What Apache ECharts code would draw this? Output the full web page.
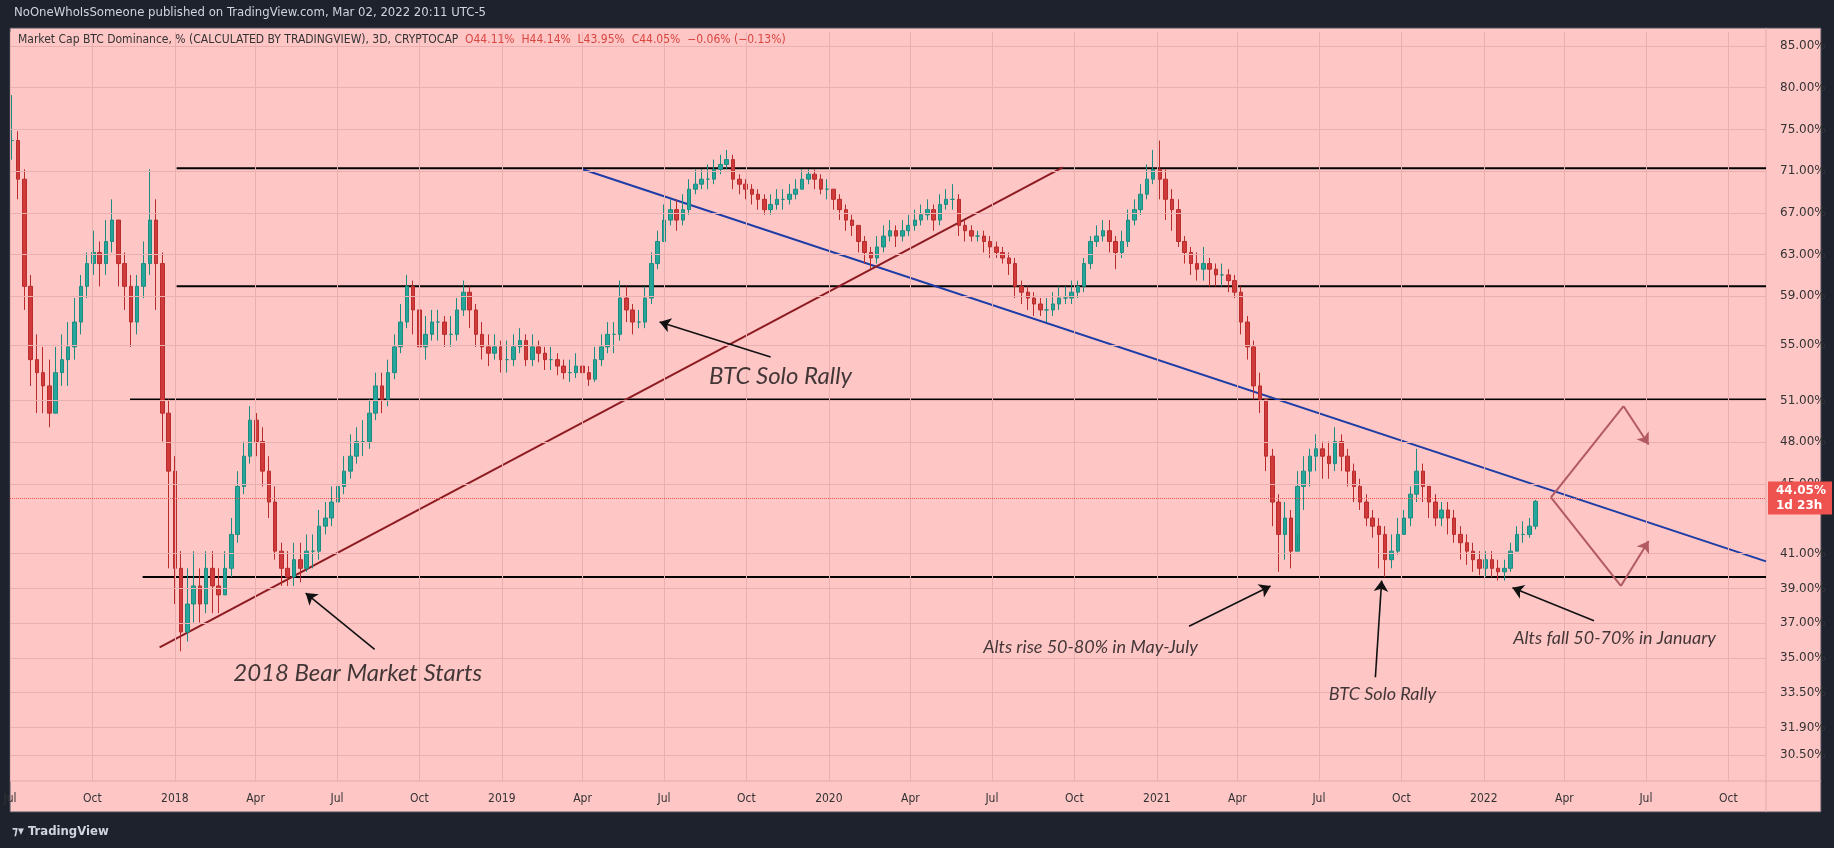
<!DOCTYPE html>
<html><head><meta charset="utf-8">
<script src="https://cdn.jsdelivr.net/npm/echarts@6/dist/echarts.min.js"></script>
<style>html,body{margin:0;padding:0;background:#1e222d}#c{width:1834px;height:848px}</style>
</head><body><div id="c"></div>
<script>
// Weekly candles starting 2017-07-03 (Mondays), closes / highs / lows
const closes = [
74,70,60,54,53, 52,50,53,54, 55,57,60,62, 63,62,64,66,62, 60,57,60,62, 66,62,50,46,
40,36.5,38,39,38, 40,39,38.5,40, 42,45,47,49.5, 48,46,44,41,40, 39.5,40.5,40,41, 41,42.5,43,44, 45,46,47,48,48, 50,52,51,53, 55,57,60,58, 55,56,57,57,56, 56,58,59.5,58, 56,55,54.5,55,54,
54,55,55.5,54, 55,54.5,54,54, 53.5,53,53,53.5, 53,52.5,54,55,56, 56,59,58,57, 57,59,62,64, 66,67,66,67,69, 69.5,70,70,71, 71.5,72,70,69.5,69, 68.5,68,67,67.5, 68,68,68.5,69, 70,70.5,70,69,69,
68,67,66,65.5, 64,63,62.5,63.5, 64.5,65,64.5,65,65.5, 66,66.5,67,66, 67.5,68,68,65.5, 65,64.5,64.5,64,63.5, 63,62.5,62,60, 59.5,59,58.5,58,58, 58.5,59,59,59.5, 60,62,64,64.5, 65,64,63,64,66, 67,68.5,70,71,
70,68,67,64, 63,62,61.5,62, 61.5,61,61,60.5,59.5, 57,55,52,51, 47,44,42,43,41, 45,46,47,47.5, 47,46.5,48,47, 46,45,44,43,42.5, 42,40.5,41,42, 43,44.5,46,45, 44,43,43.5,43,42, 41.5,41,40.5,40,
40.5,40,39.8,40,41, 42,42,42.5,44.05];
const highs = [
79,75,71,61,56, 55,54,55,56, 57,59,61,63, 65,64,66,68,66, 63,61,61,64, 71,68,63,51,
47,41,40,41,40, 41,41,40,41, 43,46,48,50.5, 50,49,47,45,41.5, 41,41.5,41.5,42, 42,43.5,44,45, 46,47,48.5,49,49.5, 51,53,53,54, 56,58.5,61,60.5, 58,57.5,58,58,57.5, 57.5,59,60.5,60, 58.5,57,56,56,55.5,
55.5,56,56.5,56, 56,55.5,55,55, 54.5,54,54,54.5, 54,53.5,55,56,57, 57,60.5,60,58.5, 58,60,63,65, 67.5,68,68,68.5,70, 71,71,71.5,72, 72.5,73,72.5,70.5,70, 69.5,69,68.5,68.5, 69,69,69.5,70, 71,71,71,70.5,70,
69,68.5,67.5,66.5, 65.5,64.5,63.5,64.5, 65.5,66,65.5,66,66.5, 67,67.5,68,67.5, 68.5,69,69.5,68.5, 66,65.5,65,65,64.5, 64,63.5,63,62.5, 60.5,60,59.5,59,59, 59.5,60,60,60.5, 60.5,62.5,64.5,65.5, 66,66,64.5,65,67, 68,69.5,71.5,73,
74,71,69,68, 64.5,63.5,63,63.5, 62.5,62,62,61.5,61, 60,57.5,55.5,53, 51,47.5,44.5,44,43.5, 46,47,47.5,48.5, 48,48,49,48.5, 47.5,46.5,45.5,44.5,43.5, 43,42.5,42,43, 43.5,45,47.5,46.5, 45,44.5,44,44,43.5, 42.5,42,41.5,41,
41,41,40.5,40.5,41.5, 42.5,42.8,43,44.14];
const lows = [
72,68,58,52,50, 50,49,50,52, 52,54,56,59, 61,60,61,63,60, 58,55,56,59, 61,58,48,40,
38,35.5,36,37,37, 37.5,37.5,37.5,38.5, 39.5,41.5,44.5,46.5, 47,45,43,40.5,39, 39,39,39.2,39.8, 40,40.5,42,42.5, 43.5,44.5,45.5,46.5,47, 47.5,49.5,50,50.5, 52.5,54.5,56.5,56, 51,54,55.5,55.5,55, 55,55.5,57.5,56.5, 55,54,53.5,54,53,
53,53.5,54.5,53.5, 53.5,53.8,53.2,53.2, 52.8,52.5,52.3,52.6, 52.3,52,52.3,53.5,54.5, 54.5,55.5,57,56, 56.5,56.5,58.5,61.5, 64,65.5,65,65.5,66.5, 68.5,69,69,69.5, 70.5,71,69,68.5,68, 67.5,67,66.5,66.5, 67,67,67.5,68, 69,69.5,69,68.5,68,
67,66,65,64.5, 63,62,61.5,62, 63,64,63.5,64,64.5, 65,65.5,66,65, 65.5,67,67,64.5, 64,64,64,63,62.5, 62.5,62,61,59, 58.5,58,57.5,57.5,57, 57.5,58,58.5,58.5, 59,59.5,61.5,63.5, 64,63,61.5,62.5,63.5, 65.5,66.5,68,69.5,
68,66,65,63.5, 62,61,60.5,60.5, 60,60,60,59.5,59, 56,54,51,50, 46,42.5,39.8,40.5,40, 42,43.5,45,46, 45.5,45.5,46,46, 45,44,43.5,42.5,41.8, 40,39.5,40,40.8, 42,42.5,44,44, 43,42.5,42.5,42,41.5, 40.5,40.2,39.8,39.6,
39.5,39.5,39.3,39.3,39.8, 41.3,41.5,41.8,42.3];
const startDate = '2017-07-03';

const yTicks = [85,80,75,71,67,63,59,55,51,48,45,41,39,37,35,33.5,31.9,30.5];
const xTicks = [['2017-07-01','Jul'],['2017-10-01','Oct'],['2018-01-01','2018'],['2018-04-01','Apr'],['2018-07-01','Jul'],['2018-10-01','Oct'],['2019-01-01','2019'],['2019-04-01','Apr'],['2019-07-01','Jul'],['2019-10-01','Oct'],['2020-01-01','2020'],['2020-04-01','Apr'],['2020-07-01','Jul'],['2020-10-01','Oct'],['2021-01-01','2021'],['2021-04-01','Apr'],['2021-07-01','Jul'],['2021-10-01','Oct'],['2022-01-01','2022'],['2022-04-01','Apr'],['2022-07-01','Jul'],['2022-10-01','Oct']];

const levels = [['2018-01-03',71.1],['2018-01-03',60],['2017-11-12',51],['2017-11-26',39.5]];
const blueTrend = [['2019-04-01',71],['2022-11-12',40.4]];
const redTrend = [['2017-12-15',35.7],['2020-09-18',71.2]];
const arrows = [
 [['2019-10-28',54.2],['2019-06-26',57.0]],
 [['2018-08-12',35.6],['2018-05-27',38.6]],
 [['2021-02-06',36.8],['2021-05-08',39.0]],
 [['2021-09-02',34.2],['2021-09-09',39.3]],
 [['2022-05-04',37.1],['2022-02-02',38.9]]];
const notes = [
 ['2019-11-08',52.7,'BTC Solo Rally',24],
 ['2018-07-24',34.4,'2018 Bear Market Starts',24],
 ['2020-10-19',35.7,'Alts rise 50-80% in May-July',18],
 ['2021-09-10',33.4,'BTC Solo Rally',18],
 ['2022-05-27',36.2,'Alts fall 50-70% in January',18]];
const zigUp = [['2022-03-17',44.3],['2022-06-06',50.5],['2022-07-04',47.8]];
const zigDown = [['2022-03-17',44.3],['2022-06-03',39.0],['2022-07-04',41.6]];
const lastPrice = 44.05;

const L = Math.log;
const T = s => +new Date(s + 'T00:00:00Z');
const xMin = T('2017-07-01'), xMax = T('2022-11-12');
const week = 7*86400000;
const candles = closes.map((c,i)=>{
  const o = i===0 ? c : closes[i-1];
  return [T(startDate)+i*week, L(o), L(c), L(lows[i]), L(highs[i])];
});
const pt = p => [T(p[0]), L(p[1])];
const FONT = '"DejaVu Sans Condensed", "Liberation Sans", sans-serif';

const gridCol = '#eab0b0';
const series = [];
series.push({type:'line', data:[], silent:true, z:1,
  markLine:{symbol:'none', silent:true, animation:false,
   data: yTicks.map(v=>({yAxis:L(v), lineStyle:{color:gridCol,width:1,type:'solid'},
     label:{show:true, position:'end', formatter:v.toFixed(2)+'%', color:'#333', fontFamily:'DejaVu Sans', fontSize:12, distance:14}}))
   .concat(xTicks.map(t=>({xAxis:T(t[0]), lineStyle:{color:gridCol,width:1,type:'solid'},
     label:{show:true, position:'start', formatter:t[1], color:'#333', fontFamily:FONT, fontSize:12, distance:12}})))
  }});
levels.forEach(l=>series.push({type:'line', data:[[T(l[0]),L(l[1])],[xMax,L(l[1])]], symbol:'none', silent:true, z:3, lineStyle:{color:'#000',width:2}}));
series.push({type:'line', data:blueTrend.map(pt), symbol:'none', z:3, lineStyle:{color:'#1c3ca6',width:2}});
series.push({type:'line', data:redTrend.map(pt), symbol:'none', z:3, lineStyle:{color:'#8c1c22',width:2}});
series.push({type:'candlestick', data:candles, barWidth:4, z:4,
  itemStyle:{color:'#26a69a', color0:'#d13a3a', borderColor:'#1c8c80', borderColor0:'#b82c2c', borderWidth:1},
  encode:{x:0,y:[1,2,3,4]},
  markLine:{symbol:'none', silent:true, animation:false, data:[{yAxis:L(lastPrice), lineStyle:{color:'#ef5350',type:'dotted',width:1},
    label:{show:true, position:'end', distance:2, formatter:'44.05%\n1d 23h', backgroundColor:'#ef5350', color:'#fff', fontWeight:'bold', fontFamily:'DejaVu Sans', fontSize:12, lineHeight:15, padding:[2,6,1,8]}}]}});
series.push({type:'lines', coordinateSystem:'cartesian2d', z:5, silent:true, symbol:['none','arrow'], symbolSize:11,
  lineStyle:{color:'#111', width:1.6, opacity:1}, data: arrows.map(a=>({coords:a.map(pt)}))});
// zigzag: first leg plain, second leg with arrowhead
series.push({type:'lines', coordinateSystem:'cartesian2d', z:5, silent:true, symbol:['none','none'],
  lineStyle:{color:'#b25a62', width:2, opacity:1}, data:[{coords:zigUp.slice(0,2).map(pt)},{coords:zigDown.slice(0,2).map(pt)}]});
series.push({type:'lines', coordinateSystem:'cartesian2d', z:5, silent:true, symbol:['none','arrow'], symbolSize:11,
  lineStyle:{color:'#b25a62', width:2, opacity:1}, data:[{coords:zigUp.slice(1).map(pt)},{coords:zigDown.slice(1).map(pt)}]});
series.push({type:'scatter', symbolSize:0, z:6, silent:true,
  data: notes.map(n=>({value:[T(n[0]),L(n[1])], label:{show:true, position:'inside', formatter:n[2], fontSize:n[3], fontStyle:'italic', fontFamily:'Lato', color:'#111'}}))});

const chart = echarts.init(document.getElementById('c'));
chart.setOption({
  backgroundColor:'#1e222d', animation:false,
  grid:{left:10, right:68, top:32, bottom:67},
  xAxis:{type:'time', min:xMin, max:xMax, axisLabel:{show:false}, axisTick:{show:false}, axisLine:{show:false}, splitLine:{show:false}},
  yAxis:{type:'value', min:L(29.46), max:L(86.5), axisLabel:{show:false}, axisTick:{show:false}, axisLine:{show:false}, splitLine:{show:false}},
  graphic:[
    {type:'rect', z:-10, shape:{x:10,y:28,width:1811,height:784}, style:{fill:'#ffc6c6', stroke:'#4a4f5c', lineWidth:1}},
    {type:'line', z:-9, shape:{x1:10,y1:781,x2:1821,y2:781}, style:{stroke:'#e3aaaa',lineWidth:1}},
    {type:'line', z:-9, shape:{x1:1766,y1:28,x2:1766,y2:812}, style:{stroke:'#e3aaaa',lineWidth:1}},
    {type:'text', left:14, top:6, style:{text:'NoOneWhoIsSomeone published on TradingView.com, Mar 02, 2022 20:11 UTC-5', fill:'#d1d4dc', font:'13px ' + FONT}},
    {type:'text', left:18, top:34, z:10, style:{text:'{a|Market Cap BTC Dominance, % (CALCULATED BY TRADINGVIEW), 3D, CRYPTOCAP}  {b|O44.11%  H44.14%  L43.95%  C44.05%  −0.06% (−0.13%)}',
      rich:{a:{fill:'#333',fontSize:12,fontFamily:FONT},b:{fill:'#d9453f',fontSize:12,fontFamily:FONT}}}},
    {type:'text', left:12, top:825, style:{text:'⁊▾ TradingView', fill:'#d1d4dc', font:'bold 13px ' + FONT}}
  ],
  series: series
});
</script></body></html>
